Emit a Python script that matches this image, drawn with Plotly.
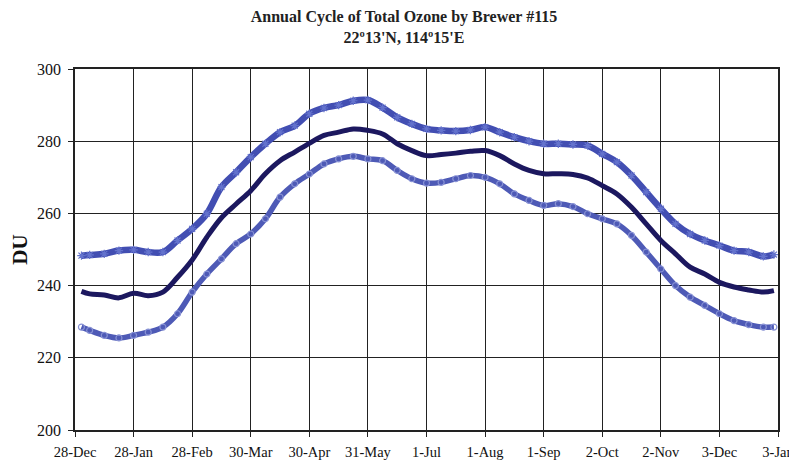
import plotly.graph_objects as go

# positions in "month" units from 28-Dec (0) to 3-Jan (12)
month_pos = [0.11, 0.25, 0.5, 0.75, 1.0, 1.25, 1.5, 1.75, 2.0, 2.25, 2.5, 2.75,
             3.0, 3.25, 3.5, 3.75, 4.0, 4.25, 4.5, 4.75, 5.0, 5.25, 5.5, 5.75,
             6.0, 6.25, 6.5, 6.75, 7.0, 7.25, 7.5, 7.75, 8.0, 8.25, 8.5, 8.75,
             9.0, 9.25, 9.5, 9.75, 10.0, 10.25, 10.5, 10.75, 11.0, 11.25, 11.5, 11.75, 11.93]

upper = [248.3, 248.5, 248.8, 249.7, 249.9, 249.3, 249.3, 252.5, 255.7, 259.9, 267.3, 271.4,
         275.6, 279.3, 282.5, 284.3, 287.6, 289.2, 290.0, 291.2, 291.4, 289.3, 286.6, 284.8,
         283.4, 283.0, 282.8, 283.1, 283.9, 282.5, 281.1, 280.0, 279.3, 279.3, 279.1, 278.8,
         276.5, 274.2, 270.5, 265.9, 261.3, 257.1, 254.3, 252.5, 251.1, 249.7, 249.3, 248.1, 248.6]

middle = [238.4, 237.7, 237.4, 236.6, 237.9, 237.2, 238.2, 242.3, 247.1, 253.4, 258.8, 262.6,
          266.3, 271.0, 274.6, 277.0, 279.4, 281.6, 282.5, 283.4, 283.0, 282.0, 279.3, 277.4,
          276.0, 276.3, 276.7, 277.2, 277.4, 276.0, 273.7, 271.9, 271.0, 271.0, 270.8, 269.8,
          267.7, 265.4, 261.7, 257.1, 252.5, 248.8, 245.1, 243.2, 240.9, 239.6, 238.8, 238.2, 238.6]

lower = [228.5, 227.6, 226.2, 225.5, 226.2, 227.1, 228.5, 232.2, 238.2, 243.2, 247.4, 251.6,
         254.3, 258.5, 264.5, 268.2, 270.9, 273.7, 275.1, 275.8, 275.1, 274.6, 271.9, 269.6,
         268.4, 268.6, 269.6, 270.5, 270.0, 268.2, 265.4, 263.6, 262.2, 262.7, 261.9, 259.9,
         258.5, 257.1, 253.9, 249.3, 244.6, 240.0, 236.8, 234.5, 232.2, 230.3, 229.2, 228.5, 228.5]

tick_labels = ["28-Dec", "28-Jan", "28-Feb", "30-Mar", "30-Apr", "31-May", "1-Jul",
               "1-Aug", "1-Sep", "2-Oct", "2-Nov", "3-Dec", "3-Jan"]
y_ticks = [200, 220, 240, 260, 280, 300]

serif = "Liberation Serif, Times New Roman, serif"

fig = go.Figure()
fig.add_trace(go.Scatter(
    x=month_pos, y=upper, mode="lines+markers",
    line=dict(color="rgb(66,78,178)", width=6.5, shape="spline"),
    marker=dict(symbol="asterisk-open", size=7, color="rgb(100,115,205)",
                line=dict(width=1.2, color="rgb(100,115,205)")),
    showlegend=False))
fig.add_trace(go.Scatter(
    x=month_pos, y=middle, mode="lines",
    line=dict(color="rgb(28,24,95)", width=5, shape="spline"),
    showlegend=False))
fig.add_trace(go.Scatter(
    x=month_pos, y=lower, mode="lines+markers",
    line=dict(color="rgb(78,90,182)", width=5.5, shape="spline"),
    marker=dict(symbol="circle-open", size=6, color="rgb(135,145,212)",
                line=dict(width=1.2, color="rgb(135,145,212)")),
    showlegend=False))

# the page body adds an 8px offset; the figure is sized/margined to compensate
fig.update_layout(
    width=797, height=453,
    margin=dict(l=67, r=27, t=61, b=31),
    paper_bgcolor="white", plot_bgcolor="white",
    font=dict(family=serif, color="black"),
    title=dict(text="<b>Annual Cycle of Total Ozone by Brewer #115</b><br><b>22º13'N, 114º15'E</b>",
               x=396 / 797, xanchor="center", y=0.968, yanchor="top",
               font=dict(family=serif, size=16, color="#222")),
    xaxis=dict(range=[0, 12], tickmode="array", automargin=False,
               tickvals=list(range(len(tick_labels))), ticktext=tick_labels,
               showgrid=True, gridcolor="#222", gridwidth=1.2,
               showline=True, linecolor="#222", linewidth=1.5, mirror=True,
               ticks="outside", ticklen=5, tickcolor="#222", ticklabelstandoff=3,
               tickfont=dict(family=serif, size=14.5, color="#111"), zeroline=False),
    yaxis=dict(range=[200, 300], tickmode="array", tickvals=y_ticks, automargin=False,
               showgrid=True, gridcolor="#222", gridwidth=1.2,
               showline=True, linecolor="#222", linewidth=1.5, mirror=True,
               ticks="outside", ticklen=5, tickcolor="#222", ticklabelstandoff=4,
               tickfont=dict(family=serif, size=16, color="#111"), zeroline=False,
               title=dict(text="<b>DU</b>", font=dict(family=serif, size=21, color="#111"),
                          standoff=9)),
)

fig.write_html("out.html")
